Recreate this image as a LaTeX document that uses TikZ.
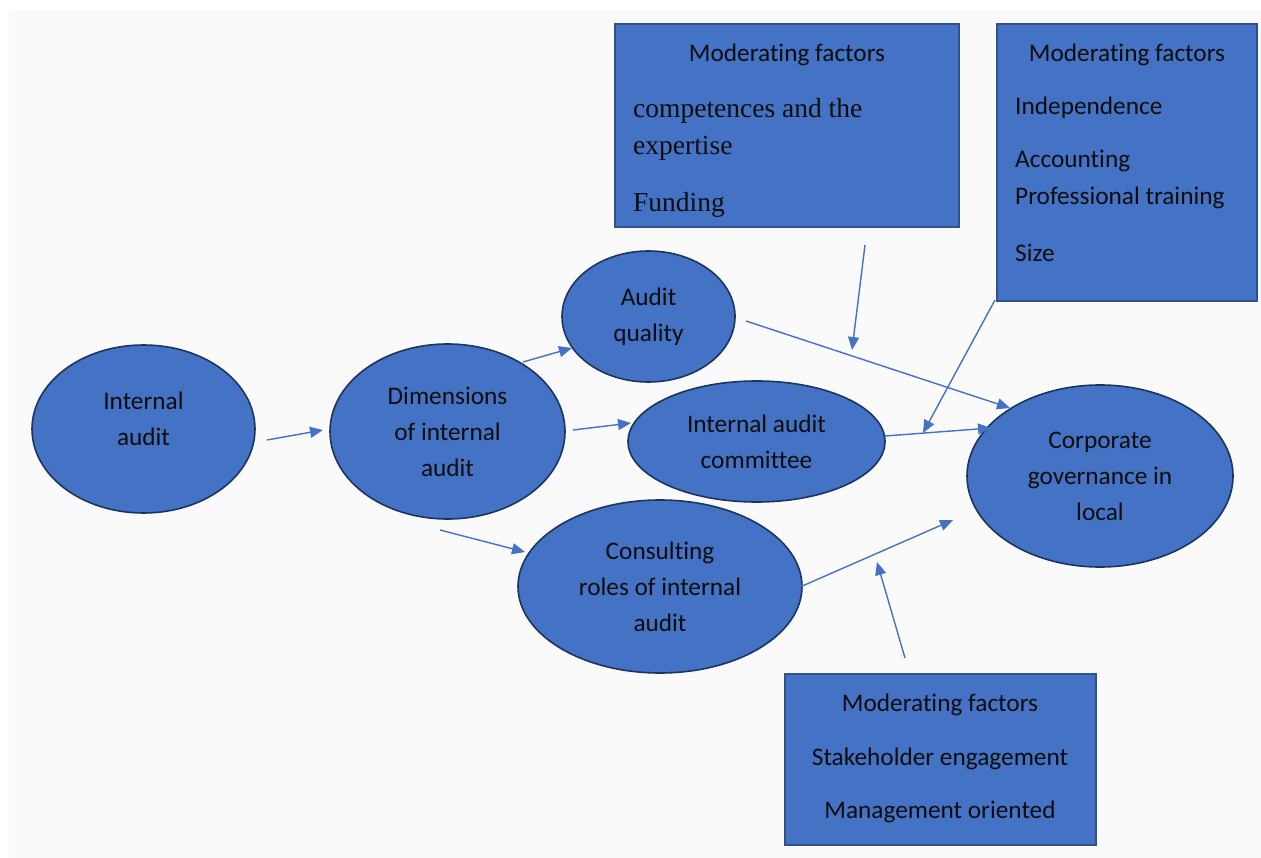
\documentclass[tikz,border=0pt]{standalone}
\usepackage{fontspec}
\setmainfont{Carlito}[Ligatures=NoCommon]
\newfontfamily\serifface{Liberation Serif}
\usetikzlibrary{shapes.geometric,arrows.meta}
\definecolor{shapefill}{HTML}{4472C4}
\definecolor{boxline}{HTML}{2F528F}
\definecolor{ellline}{HTML}{1C3461}
\definecolor{linkblue}{HTML}{4472C4}
\definecolor{pagebg}{HTML}{FAFAFA}
\definecolor{inktext}{HTML}{0D0D0D}
\tikzset{
  ell/.style={ellipse, draw=ellline, line width=1.6pt, fill=shapefill, inner sep=0pt,
    text=inktext, align=center, font=\fontsize{25.3}{36}\selectfont},
  factorbox/.style={rectangle, draw=boxline, line width=2pt, fill=shapefill, inner sep=0pt},
  boxtext/.style={inner sep=0pt, text=inktext, font=\fontsize{25.3}{30}\selectfont},
  serifline/.style={inner sep=0pt, text=inktext, font=\serifface\fontsize{27.5}{33}\selectfont},
  link/.style={draw=linkblue, line width=1.4pt, -{Triangle[length=13pt,width=11pt]}}
}
\begin{document}
\begin{tikzpicture}[x=1pt,y=-1pt]
\useasboundingbox (0,0) rectangle (1261,858);
\fill[pagebg] (9,10) rectangle (1261,858);

% ellipses
\node[ell, minimum width=223pt, minimum height=168pt] (ia) at (143.5,429) {};
\node[inner sep=0pt, text=inktext, align=center, font=\fontsize{25.3}{36}\selectfont] (iatext) at (143.5,419) {Internal\\audit};
\node[ell, minimum width=235pt, minimum height=175pt] (dim) at (447.5,431.5) {Dimensions\\of internal\\audit};
\node[ell, minimum width=173pt, minimum height=131pt] (aq) at (648.5,316.5) {Audit\\quality};
\node[ell, minimum width=257pt, minimum height=121pt] (iac) at (756.5,441.5) {Internal audit\\committee};
\node[ell, minimum width=284pt, minimum height=173pt] (cons) at (660,586.5) {Consulting\\roles of internal\\audit};
\node[ell, minimum width=266pt, minimum height=182pt] (cg) at (1100,476) {Corporate\\governance in\\local};

% moderating factor boxes
\node[factorbox, minimum width=344pt, minimum height=203pt] (boxa) at (787,125.5) {};
\node[boxtext, anchor=base] (boxatitle) at (787,62) {Moderating factors};
\node[serifline, anchor=base west] (boxa1) at (633,118) {competences and the};
\node[serifline, anchor=base west] (boxa2) at (633,155) {expertise};
\node[serifline, anchor=base west] (boxa3) at (633,212) {Funding};

\node[factorbox, minimum width=260pt, minimum height=277pt] (boxb) at (1127,162.5) {};
\node[boxtext, anchor=base] (boxbtitle) at (1127,62) {Moderating factors};
\node[boxtext, anchor=base west] (boxb1) at (1015,115) {Independence};
\node[boxtext, anchor=base west] (boxb2) at (1015,168) {Accounting};
\node[boxtext, anchor=base west] (boxb3) at (1015,205) {Professional training};
\node[boxtext, anchor=base west] (boxb4) at (1015,262) {Size};

\node[factorbox, minimum width=311pt, minimum height=171pt] (boxc) at (940,759.5) {};
\node[boxtext, anchor=base] (boxctitle) at (940,711) {Moderating factors};
\node[boxtext, anchor=base] (boxc1) at (940,765) {Stakeholder engagement};
\node[boxtext, anchor=base] (boxc2) at (940,818) {Management oriented};

% free ends of the connectors
\coordinate (ia-out) at (267,440);
\coordinate (dim-in) at (323,430);
\coordinate (dim-out1) at (523,362);
\coordinate (aq-in) at (572,348);
\coordinate (dim-out2) at (573,430);
\coordinate (iac-in) at (631,423);
\coordinate (dim-out3) at (440,530);
\coordinate (cons-in) at (525,552);
\coordinate (aq-out) at (746,321);
\coordinate (cg-in1) at (1010,408);
\coordinate (iac-out) at (885,436);
\coordinate (cg-in2) at (991,428);
\coordinate (cons-out) at (800,587);
\coordinate (cg-in3) at (953,520);
\coordinate (boxa-out) at (865,245);
\coordinate (boxa-hit) at (852,350);
\coordinate (boxb-out) at (995,300);
\coordinate (boxb-hit) at (923,433);
\coordinate (boxc-out) at (905,658);
\coordinate (boxc-hit) at (877,562);

% connectors
\draw[link] (ia-out) -- (dim-in);
\draw[link] (dim-out1) -- (aq-in);
\draw[link] (dim-out2) -- (iac-in);
\draw[link] (dim-out3) -- (cons-in);
\draw[link] (aq-out) -- (cg-in1);
\draw[link] (iac-out) -- (cg-in2);
\draw[link] (cons-out) -- (cg-in3);
\draw[link] (boxa-out) -- (boxa-hit);
\draw[link] (boxb-out) -- (boxb-hit);
\draw[link] (boxc-out) -- (boxc-hit);
\end{tikzpicture}
\end{document}
